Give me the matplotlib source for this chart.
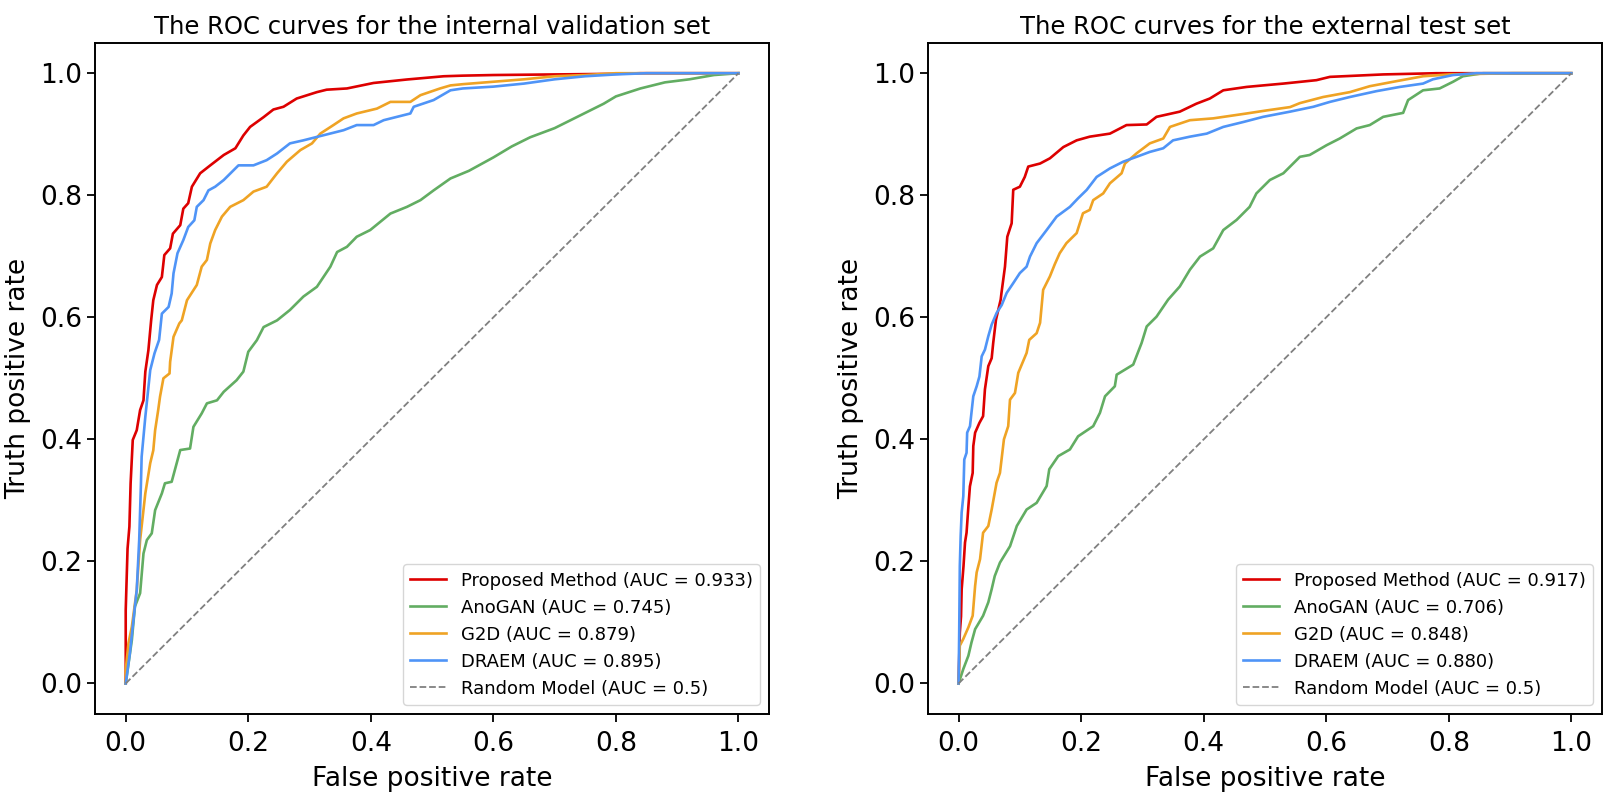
import matplotlib
matplotlib.use("Agg")
import matplotlib.pyplot as plt

# ---------------- data: internal validation set ----------------
int_prop_fpr = [0, 0, 0, 0.003, 0.006, 0.008, 0.0115, 0.018, 0.0235, 0.029, 0.032, 0.037, 0.0415, 0.045,
                0.051, 0.059, 0.063, 0.0725, 0.077, 0.089, 0.094, 0.102, 0.108, 0.1215, 0.138, 0.160, 0.179,
                0.192, 0.203, 0.225, 0.241, 0.2575, 0.279, 0.312, 0.328, 0.361, 0.4045, 0.459, 0.519, 0.55,
                0.6, 0.7, 0.8, 0.84, 1.0]
int_prop_tpr = [0, 0.033, 0.12, 0.221, 0.257, 0.328, 0.399, 0.415, 0.448, 0.464, 0.511, 0.546, 0.595, 0.628,
                0.653, 0.666, 0.702, 0.713, 0.737, 0.751, 0.778, 0.787, 0.814, 0.836, 0.849, 0.866, 0.877,
                0.898, 0.912, 0.928, 0.9405, 0.945, 0.9585, 0.969, 0.973, 0.975, 0.984, 0.9897, 0.995, 0.996,
                0.997, 0.998, 0.999, 1.0, 1.0]

int_ano_fpr = [0, 0.010, 0.015, 0.0235, 0.029, 0.0345, 0.0425, 0.048, 0.059, 0.064, 0.075, 0.089, 0.105,
               0.1105, 0.124, 0.1325, 0.149, 0.160, 0.181, 0.192, 0.200, 0.214, 0.225, 0.247, 0.268, 0.290,
               0.312, 0.334, 0.345, 0.361, 0.377, 0.399, 0.4155, 0.432, 0.459, 0.481, 0.5025, 0.53, 0.56,
               0.6, 0.63, 0.66, 0.7, 0.74, 0.78, 0.8, 0.84, 0.88, 0.92, 0.96, 1.0]
int_ano_tpr = [0, 0.071, 0.126, 0.148, 0.213, 0.235, 0.246, 0.284, 0.3115, 0.328, 0.3305, 0.3825, 0.385,
               0.4205, 0.4425, 0.459, 0.464, 0.478, 0.497, 0.511, 0.5435, 0.5625, 0.584, 0.595, 0.612, 0.634,
               0.650, 0.683, 0.707, 0.7155, 0.732, 0.743, 0.7565, 0.770, 0.781, 0.792, 0.808, 0.8275, 0.84,
               0.862, 0.88, 0.895, 0.91, 0.93, 0.95, 0.962, 0.975, 0.985, 0.99, 0.997, 1.0]

int_g2d_fpr = [0, 0, 0.0045, 0.010, 0.018, 0.0235, 0.032, 0.040, 0.045, 0.048, 0.053, 0.056, 0.0615, 0.0715,
               0.0725, 0.078, 0.0875, 0.0915, 0.100, 0.116, 0.124, 0.1325, 0.138, 0.146, 0.157, 0.1705, 0.192,
               0.2085, 0.230, 0.247, 0.263, 0.285, 0.304, 0.3175, 0.339, 0.3555, 0.377, 0.410, 0.432, 0.4645,
               0.481, 0.513, 0.53, 0.55, 0.6, 0.65, 0.7, 0.75, 0.8, 1.0]
int_g2d_tpr = [0, 0.022, 0.066, 0.093, 0.153, 0.235, 0.3115, 0.361, 0.382, 0.415, 0.448, 0.470, 0.500, 0.508,
               0.527, 0.568, 0.590, 0.595, 0.628, 0.653, 0.683, 0.694, 0.721, 0.743, 0.765, 0.781, 0.792,
               0.806, 0.814, 0.836, 0.855, 0.874, 0.885, 0.901, 0.915, 0.926, 0.934, 0.942, 0.953, 0.953,
               0.964, 0.975, 0.980, 0.982, 0.986, 0.99, 0.995, 0.997, 1.0, 1.0]

int_draem_fpr = [0, 0.0067, 0.0126, 0.018, 0.022, 0.0247, 0.026, 0.032, 0.040, 0.047, 0.0545, 0.059, 0.070,
                 0.075, 0.078, 0.0845, 0.094, 0.102, 0.112, 0.116, 0.127, 0.135, 0.146, 0.160, 0.176, 0.184,
                 0.2085, 0.230, 0.247, 0.268, 0.290, 0.3175, 0.3555, 0.377, 0.4045, 0.421, 0.4645, 0.470,
                 0.5025, 0.53, 0.55, 0.6, 0.65, 0.7, 0.75, 0.8, 0.85, 1.0]
int_draem_tpr = [0, 0.049, 0.104, 0.153, 0.235, 0.322, 0.3715, 0.437, 0.5135, 0.541, 0.563, 0.606, 0.617,
                 0.639, 0.672, 0.705, 0.7265, 0.748, 0.759, 0.781, 0.792, 0.808, 0.814, 0.825, 0.841, 0.849,
                 0.849, 0.8575, 0.8685, 0.885, 0.890, 0.897, 0.9066, 0.915, 0.915, 0.923, 0.934, 0.945,
                 0.956, 0.972, 0.975, 0.978, 0.983, 0.99, 0.995, 0.998, 1.0, 1.0]

# ---------------- data: external test set ----------------
ext_prop_fpr = [0, 0.002, 0.004, 0.005, 0.008, 0.0105, 0.013, 0.016, 0.0185, 0.023, 0.024, 0.027, 0.034,
                0.040, 0.043, 0.0485, 0.054, 0.0565, 0.061, 0.0687, 0.070, 0.0757, 0.0795, 0.0866, 0.0892,
                0.100, 0.108, 0.1137, 0.133, 0.149, 0.171, 0.1927, 0.214, 0.247, 0.274, 0.307, 0.323, 0.361,
                0.388, 0.410, 0.432, 0.470, 0.497, 0.530, 0.584, 0.606, 0.693, 0.780, 1.0]
ext_prop_tpr = [0, 0.083, 0.11, 0.154, 0.192, 0.231, 0.247, 0.290, 0.323, 0.345, 0.389, 0.411, 0.427, 0.438,
                0.482, 0.520, 0.533, 0.558, 0.596, 0.629, 0.640, 0.683, 0.732, 0.754, 0.809, 0.814, 0.830,
                0.847, 0.852, 0.8605, 0.879, 0.890, 0.896, 0.901, 0.915, 0.916, 0.9285, 0.937, 0.950,
                0.9585, 0.972, 0.9775, 0.980, 0.983, 0.9886, 0.994, 0.998, 1.0, 1.0]

ext_ano_fpr = [0, 0.0077, 0.016, 0.021, 0.027, 0.040, 0.0485, 0.054, 0.059, 0.0675, 0.084, 0.095, 0.111,
               0.1274, 0.1437, 0.148, 0.1626, 0.1817, 0.195, 0.2197, 0.2307, 0.239, 0.255, 0.258, 0.285,
               0.2987, 0.307, 0.323, 0.342, 0.361, 0.3775, 0.394, 0.4155, 0.432, 0.4537, 0.475, 0.486,
               0.508, 0.530, 0.541, 0.557, 0.573, 0.6005, 0.622, 0.6495, 0.671, 0.693, 0.7255, 0.7336,
               0.758, 0.785, 0.807, 0.823, 0.856, 1.0]
ext_ano_tpr = [0, 0.0237, 0.0455, 0.067, 0.089, 0.111, 0.133, 0.1545, 0.176, 0.198, 0.225, 0.258, 0.285,
               0.296, 0.3235, 0.351, 0.3725, 0.3835, 0.405, 0.4216, 0.4435, 0.4706, 0.487, 0.506, 0.5225,
               0.558, 0.585, 0.601, 0.629, 0.6505, 0.678, 0.6995, 0.713, 0.743, 0.7596, 0.781, 0.803,
               0.825, 0.836, 0.847, 0.863, 0.866, 0.882, 0.893, 0.9095, 0.915, 0.9285, 0.935, 0.956,
               0.972, 0.975, 0.986, 0.995, 1.0, 1.0]

ext_g2d_fpr = [0, 0.002, 0.0077, 0.016, 0.023, 0.027, 0.0295, 0.035, 0.040, 0.0485, 0.054, 0.062, 0.0675,
               0.074, 0.081, 0.0839, 0.092, 0.0974, 0.111, 0.1153, 0.1274, 0.133, 0.138, 0.149, 0.157, 0.165,
               0.176, 0.1927, 0.203, 0.214, 0.2197, 0.236, 0.247, 0.266, 0.2715, 0.2905, 0.312, 0.334,
               0.345, 0.3775, 0.4155, 0.470, 0.5026, 0.541, 0.557, 0.595, 0.6385, 0.671, 0.7147, 0.758,
               0.8016, 0.905, 1.0]
ext_g2d_tpr = [0, 0.062, 0.073, 0.092, 0.111, 0.160, 0.182, 0.2036, 0.247, 0.258, 0.285, 0.329, 0.345, 0.400,
               0.4216, 0.465, 0.476, 0.509, 0.5416, 0.563, 0.574, 0.591, 0.645, 0.667, 0.687, 0.705, 0.7215,
               0.738, 0.7705, 0.776, 0.792, 0.803, 0.8196, 0.836, 0.852, 0.8687, 0.885, 0.893, 0.912, 0.923,
               0.926, 0.934, 0.939, 0.9445, 0.951, 0.961, 0.969, 0.9787, 0.987, 0.995, 0.998, 1.0, 1.0]

ext_draem_fpr = [0, 0.001, 0.002, 0.0034, 0.005, 0.0077, 0.0093, 0.013, 0.014, 0.0186, 0.024, 0.0295, 0.034,
                 0.0377, 0.043, 0.0485, 0.054, 0.062, 0.0703, 0.0785, 0.0892, 0.100, 0.111, 0.1165, 0.1274,
                 0.1437, 0.160, 0.1817, 0.195, 0.209, 0.2253, 0.247, 0.2687, 0.2905, 0.312, 0.334, 0.350,
                 0.3775, 0.405, 0.432, 0.4645, 0.497, 0.541, 0.579, 0.606, 0.6385, 0.682, 0.720, 0.758,
                 0.774, 0.807, 0.845, 1.0]
ext_draem_tpr = [0, 0.084, 0.1925, 0.2417, 0.280, 0.307, 0.367, 0.378, 0.411, 0.4216, 0.4706, 0.487, 0.503,
                 0.536, 0.547, 0.569, 0.588, 0.607, 0.620, 0.640, 0.656, 0.6725, 0.683, 0.6995, 0.7215,
                 0.743, 0.765, 0.781, 0.795, 0.8087, 0.830, 0.844, 0.855, 0.863, 0.871, 0.877, 0.890,
                 0.896, 0.901, 0.912, 0.920, 0.9285, 0.937, 0.945, 0.953, 0.961, 0.9706, 0.9775, 0.983,
                 0.990, 0.997, 1.0, 1.0]

method_names = ["Proposed Method", "AnoGAN", "G2D", "DRAEM"]
auc_internal = ["0.933", "0.745", "0.879", "0.895"]
auc_external = ["0.917", "0.706", "0.848", "0.880"]
titles = ["The ROC curves for the internal validation set", "The ROC curves for the external test set"]
random_label = "Random Model (AUC = 0.5)"

colors = ["#DD0000", "#62AD62", "#EFA324", "#4F94F7"]

panels = [
    ([(int_prop_fpr, int_prop_tpr), (int_ano_fpr, int_ano_tpr),
      (int_g2d_fpr, int_g2d_tpr), (int_draem_fpr, int_draem_tpr)], auc_internal),
    ([(ext_prop_fpr, ext_prop_tpr), (ext_ano_fpr, ext_ano_tpr),
      (ext_g2d_fpr, ext_g2d_tpr), (ext_draem_fpr, ext_draem_tpr)], auc_external),
]

fig = plt.figure(figsize=(16.06, 7.95), dpi=100)
ax_rects = [[0.0592, 0.1019, 0.4197, 0.8444], [0.5778, 0.1019, 0.4197, 0.8444]]

for rect, (curves, aucs), title in zip(ax_rects, panels, titles):
    ax = fig.add_axes(rect)
    for (fpr, tpr), name, auc, c in zip(curves, method_names, aucs, colors):
        ax.plot(fpr, tpr, color=c, lw=1.9, label=f"{name} (AUC = {auc})")
    ax.plot([0, 1], [0, 1], color="#808080", lw=1.3, ls="--", label=random_label)
    ax.set_title(title, fontsize=17.5, pad=6)
    ax.set_xlabel("False positive rate", fontsize=19, labelpad=7)
    ax.set_ylabel("Truth positive rate", fontsize=19, labelpad=6)
    ax.set_xticks([0, 0.2, 0.4, 0.6, 0.8, 1.0])
    ax.set_yticks([0, 0.2, 0.4, 0.6, 0.8, 1.0])
    ax.tick_params(labelsize=19, length=6, width=1.3)
    ax.tick_params(axis="x", pad=6)
    for s in ax.spines.values():
        s.set_linewidth(1.4)
    ax.legend(loc="lower right", fontsize=13, handlelength=2.0)

fig.savefig("out.png", dpi=100)
